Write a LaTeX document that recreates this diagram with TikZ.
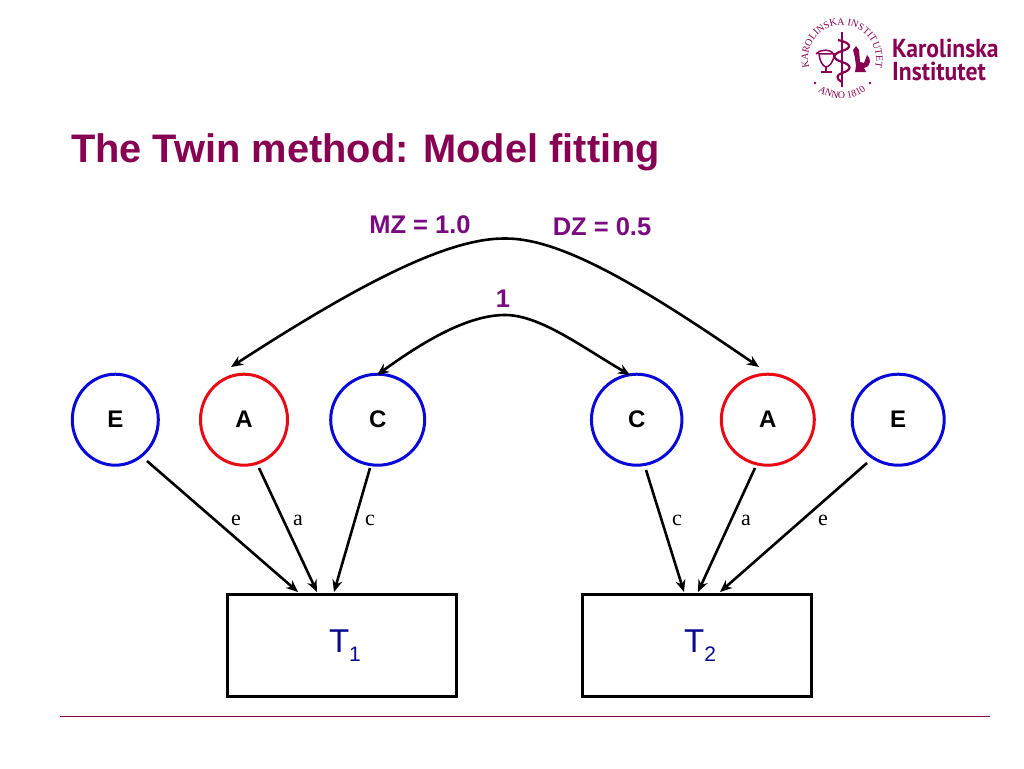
\documentclass[tikz,border=0pt]{standalone}
\usepackage{fontspec}
\setmainfont{Liberation Sans}
\newfontfamily\serifx{Liberation Serif}
\newfontfamily\logofont{PT Sans}
\usetikzlibrary{arrows.meta,decorations.text,shapes.geometric}
\definecolor{kired}{HTML}{870052}
\definecolor{labpurple}{HTML}{7A0A80}
\definecolor{tblue}{HTML}{0A0A90}
\definecolor{cblue}{HTML}{0808D8}
\definecolor{cred}{HTML}{E80A14}
\tikzset{
 x=1pt,y=-1pt,
 latent/.style={ellipse,draw,line width=3pt,inner sep=0pt,minimum height=91pt,font=\fontsize{24}{26}\selectfont\bfseries,text=black},
 bluec/.style={latent,draw=cblue},
 redc/.style={latent,draw=cred},
 pheno/.style={draw=black,line width=3pt,inner sep=0pt,minimum width=229.5pt,minimum height=102pt},
 ptext/.style={inner sep=0pt,text=tblue,font=\fontsize{33}{35}\selectfont},
 link/.style={black,line width=2.6pt,-{Stealth[length=12pt,width=10pt]}},
 pathlab/.style={font=\serifx\fontsize{22}{24}\selectfont,inner sep=0pt},
 corrlab/.style={text=labpurple,font=\fontsize{25.5}{28}\selectfont\bfseries,inner sep=0pt},
 logotxt/.style={anchor=base west,inner sep=0pt,text=kired,font=\logofont\fontsize{26}{26}\selectfont\bfseries,xscale=0.91},
}
\newcommand{\subnum}[1]{\raisebox{-9pt}{\fontsize{21}{23}\selectfont #1}}
\begin{document}
\begin{tikzpicture}
\useasboundingbox (0,0) rectangle (1024,768);
% title and rule
\node[anchor=base west,inner sep=0pt,text=kired,font=\fontsize{39.8}{42}\selectfont\bfseries] (title) at (71,162.5) {The Twin method: Model fitting};
\coordinate (ruleL) at (60,716.5); \coordinate (ruleR) at (990,716.5);
\draw[kired,line width=1pt] (ruleL) -- (ruleR);
% logo
\node[logotxt] (logoA) at (892,57) {Karolinska};
\node[logotxt] (logoB) at (892,80) {Institutet};
\draw[draw=none,postaction={decorate,decoration={text along path,text align=center,text={|\serifx\fontsize{10}{11}\selectfont\color{kired}|KAROLINSKA INSTITUTET}}}]
 (812,75) arc[start angle=152,end angle=388,radius=34];
\draw[draw=none,postaction={decorate,decoration={text along path,text align=center,text={|\serifx\fontsize{10}{11}\selectfont\color{kired}|ANNO 1810}}}]
 (816.3,89.6) arc[start angle=130,end angle=50,radius=40];
\fill[kired] (815,83) circle (1.4) (870,83) circle (1.4);
% staff and serpent
\draw[kired,line width=1.8pt] (842,32) -- (842,87);
\draw[kired,line width=2.2pt] (838,40) .. controls (852,43) and (852,48) .. (842,51) .. controls (832,54) and (832,59) .. (842,62) .. controls (852,65) and (852,70) .. (842,73) .. controls (836,75) and (836,79) .. (842,82);
% bowl
\draw[kired,line width=1.5pt] (816,54) .. controls (822,48) and (830,50) .. (833,53) (819,54) .. controls (820,64) and (825,67) .. (826,67) .. controls (829,67) and (834,62) .. (834,54) -- cycle;
\draw[kired,line width=1.4pt] (826,67) -- (826,71) (821,72) -- (832,72);
% cock
\fill[kired] (855,72) -- (866,72) -- (864,68) .. controls (872,66) and (871,58) .. (867,55) -- (864,63) -- (860,62) -- (859,50) -- (856,46) -- (853,50) -- (855,58) -- (856,66) -- cycle;
% circles
\node[bluec,minimum width=86pt] (E1) at (115.3,419.7) {E};
\node[redc,minimum width=87pt] (A1) at (244,419.7) {A};
\node[bluec,minimum width=94pt] (C1) at (377.7,419.7) {C};
\node[bluec,minimum width=90.5pt] (C2) at (636.7,419.7) {C};
\node[redc,minimum width=93pt] (A2) at (767.8,419.7) {A};
\node[bluec,minimum width=92pt] (E2) at (898.2,419.7) {E};
% boxes
\node[pheno] (T1) at (342.2,645) {};
\node[pheno] (T2) at (697.2,645) {};
\node[ptext] (T1t) at (345,646) {T\subnum{1}};
\node[ptext] (T2t) at (700,646) {T\subnum{2}};
% path arrows
\coordinate (e1s) at (147,461); \coordinate (e1t) at (298,592);
\coordinate (a1s) at (259,468); \coordinate (a1t) at (317,592);
\coordinate (c1s) at (370,468); \coordinate (c1t) at (334,592);
\coordinate (c2s) at (646,470); \coordinate (c2t) at (684,592);
\coordinate (a2s) at (755,468); \coordinate (a2t) at (698,592);
\coordinate (e2s) at (867,463); \coordinate (e2t) at (720,592);
\draw[link] (e1s) -- (e1t);
\draw[link] (a1s) -- (a1t);
\draw[link] (c1s) -- (c1t);
\draw[link] (c2s) -- (c2t);
\draw[link] (a2s) -- (a2t);
\draw[link] (e2s) -- (e2t);
% curved correlations
\coordinate (top) at (505,238.5); \coordinate (low) at (505,315);
\coordinate (A1t) at (231,367); \coordinate (A2t) at (759,367);
\coordinate (C1t) at (377,375); \coordinate (C2t) at (630,375);
\draw[link] (top) .. controls (450,238) and (365,280) .. (A1t);
\draw[link] (top) .. controls (560,238) and (640,285) .. (A2t);
\draw[link] (low) .. controls (470,315) and (428,338) .. (C1t);
\draw[link] (low) .. controls (540,315) and (582,347) .. (C2t);
% labels
\node[corrlab] (mz) at (420,225) {MZ = 1.0};
\node[corrlab] (dz) at (602,227) {DZ = 0.5};
\node[corrlab] (one) at (503,299) {1};
\node[pathlab] (le) at (236,520) {e};
\node[pathlab] (la) at (298,520) {a};
\node[pathlab] (lc) at (370,520) {c};
\node[pathlab] (lc2) at (677,520) {c};
\node[pathlab] (la2) at (746,520) {a};
\node[pathlab] (le2) at (823,520) {e};
\end{tikzpicture}
\end{document}
